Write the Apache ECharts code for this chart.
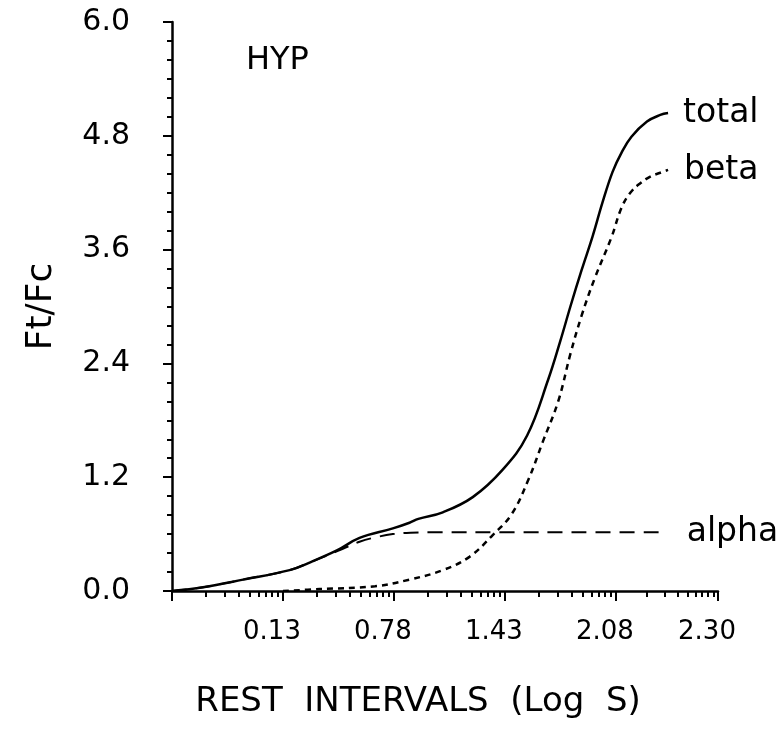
<!DOCTYPE html>
<html>
<head>
<meta charset="utf-8">
<script src="https://cdn.jsdelivr.net/npm/echarts@6/dist/echarts.min.js"></script>
<style>
html,body{margin:0;padding:0;background:#fff;}
#chart{width:783px;height:736px;}
</style>
</head>
<body>
<div id="chart"></div>
<script>
// ---- data (x in log-decade units along the axis, y = Ft/Fc) ----
const totalX = [0, 0.28, 0.64, 1.06, 1.24, 1.49, 1.69, 1.99, 2.14, 2.22, 2.44, 2.71, 2.98, 3.20, 3.39, 3.50, 3.59, 3.69, 3.79, 3.88, 3.97, 4.05, 4.14, 4.28, 4.40, 4.47];
const totalY = [0, 0.04, 0.12, 0.22, 0.30, 0.43, 0.56, 0.66, 0.72, 0.76, 0.83, 0.99, 1.28, 1.64, 2.23, 2.64, 3.0, 3.38, 3.74, 4.1, 4.42, 4.62, 4.79, 4.95, 5.02, 5.04];
const betaX = [1.0, 1.33, 1.83, 2.14, 2.44, 2.68, 2.89, 3.06, 3.21, 3.34, 3.48, 3.59, 3.69, 3.81, 3.96, 4.05, 4.13, 4.22, 4.31, 4.40, 4.47];
const betaY = [0.0, 0.02, 0.05, 0.12, 0.22, 0.36, 0.59, 0.81, 1.17, 1.57, 2.0, 2.5, 2.9, 3.3, 3.73, 4.04, 4.2, 4.3, 4.37, 4.41, 4.44];
const alphaX = [0, 0.28, 0.64, 1.06, 1.24, 1.49, 1.69, 1.85, 1.99, 2.15, 2.4, 3.0, 3.7, 4.44];
const alphaY = [0, 0.04, 0.12, 0.22, 0.30, 0.42, 0.52, 0.57, 0.60, 0.615, 0.62, 0.62, 0.62, 0.62];

const xTickLabels = ['0.13', '0.78', '1.43', '2.08', '2.30'];
const xLabelPositions = [1, 2, 3, 4, 4.92];
const xMajorPositions = [0, 1, 2, 3, 4, 4.92];
const xMax = 4.92;

// minor tick positions of the log axis (2..9 within each decade)
const xMinorPositions = [];
for (let d = 0; d < 5; d++) {
  const w = Math.min(1, xMax - d);
  for (let k = 2; k <= 9; k++) xMinorPositions.push(d + Math.log10(k) * w);
}

function pairs(xs, ys) { return xs.map((x, i) => [x, ys[i]]); }

const FONT = 'DejaVu Sans';
const chart = echarts.init(document.getElementById('chart'), null, {renderer: 'canvas'});

const endLabel = (dist) => ({show: true, formatter: '{a}', distance: dist, fontFamily: FONT, fontSize: 33, color: '#000'});

chart.setOption({
  backgroundColor: '#fff',
  animation: false,
  grid: {left: 172, right: 65, top: 22, bottom: 145, containLabel: false},
  xAxis: [
    {
      type: 'value', min: 0, max: xMax, position: 'bottom',
      axisLine: {show: true, onZero: false, lineStyle: {color: '#000', width: 2.5}},
      axisTick: {show: true, inside: false, length: 10, customValues: xMajorPositions, lineStyle: {color: '#000', width: 2}},
      axisLabel: {
        show: true, customValues: xLabelPositions, margin: 28,
        fontFamily: FONT, fontSize: 26, color: '#000',
        padding: [0, 22, 0, 0],
        formatter: function (v) {
          let best = 0;
          for (let i = 0; i < xLabelPositions.length; i++) {
            if (Math.abs(xLabelPositions[i] - v) < Math.abs(xLabelPositions[best] - v)) best = i;
          }
          return xTickLabels[best];
        }
      },
      splitLine: {show: false},
      name: 'REST  INTERVALS  (Log  S)',
      nameLocation: 'middle', nameGap: 94,
      nameTextStyle: {fontFamily: FONT, fontSize: 34, color: '#000', padding: [0, 54, 0, 0]}
    },
    {
      type: 'value', min: 0, max: xMax, position: 'bottom',
      axisLine: {show: false},
      axisTick: {show: true, inside: false, length: 6, customValues: xMinorPositions, lineStyle: {color: '#000', width: 2}},
      axisLabel: {show: false},
      splitLine: {show: false}
    }
  ],
  yAxis: {
    type: 'value', min: 0, max: 6, interval: 1.2,
    axisLine: {show: true, onZero: false, lineStyle: {color: '#000', width: 2.5}},
    axisTick: {show: true, inside: false, length: 9, lineStyle: {color: '#000', width: 2}},
    minorTick: {show: true, splitNumber: 6, length: 5, lineStyle: {color: '#000', width: 2}},
    axisLabel: {
      margin: 42, fontFamily: FONT, fontSize: 30, color: '#000',
      formatter: v => v.toFixed(1)
    },
    splitLine: {show: false},
    minorSplitLine: {show: false},
    name: 'Ft/Fc', nameLocation: 'middle', nameRotate: 90, nameGap: 112,
    nameTextStyle: {fontFamily: FONT, fontSize: 36, color: '#000'}
  },
  graphic: [
    {type: 'text', left: 246, top: 45, style: {text: 'HYP', fontFamily: FONT, fontSize: 32, fill: '#000'}}
  ],
  series: [
    {
      name: 'total', type: 'line', xAxisIndex: 0, data: pairs(totalX, totalY),
      smooth: 0.4, showSymbol: false,
      lineStyle: {color: '#000', width: 2.5, type: 'solid'},
      endLabel: endLabel(15)
    },
    {
      name: 'beta', type: 'line', xAxisIndex: 0, data: pairs(betaX, betaY),
      smooth: 0.4, showSymbol: false,
      lineStyle: {color: '#000', width: 2.5, type: [6, 5]},
      endLabel: endLabel(16)
    },
    {
      name: 'alpha', type: 'line', xAxisIndex: 0, data: pairs(alphaX, alphaY),
      smooth: 0.4, showSymbol: false,
      lineStyle: {color: '#000', width: 2, type: [15, 9]},
      endLabel: endLabel(22)
    }
  ]
});
</script>
</body>
</html>
